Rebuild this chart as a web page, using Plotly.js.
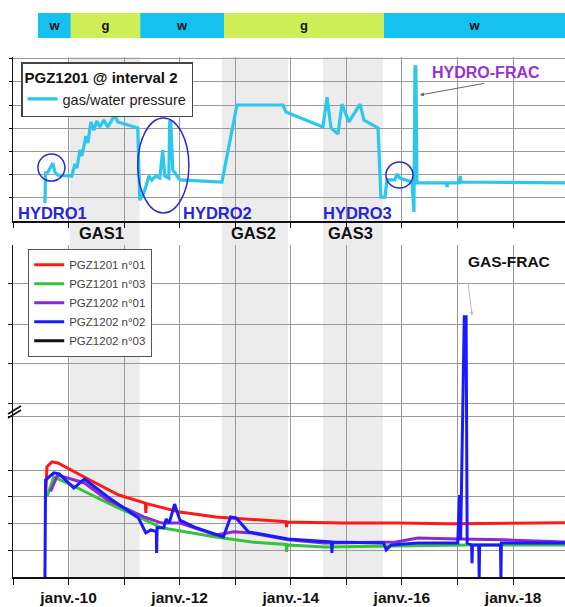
<!DOCTYPE html>
<html>
<head>
<meta charset="utf-8">
<script src="https://cdn.plot.ly/plotly-3.0.1.min.js"></script>
<style>html,body{margin:0;padding:0;background:#fff;}#chart{width:565px;height:607px;}</style>
</head>
<body>
<div id="chart"></div>
<script>
// ---------- DATA ----------
const xStart = '2009-01-01';
const xEnd = '2018-12-08';

const yearTicks = ['2009-01-01','2010-01-01','2011-01-01','2012-01-01','2013-01-01','2014-01-01','2015-01-01','2016-01-01','2017-01-01','2018-01-01'];
const yearLabels = ['','janv.-10','','janv.-12','','janv.-14','','janv.-16','','janv.-18'];

// phase bar (w = water, g = gas)
const phaseLabels = ['w','g','w','g','w'];
const phaseStart = ['2009-06-14','2010-01-16','2011-04-17','2012-10-19','2015-09-05'];
const phaseEnd   = ['2010-01-16','2011-04-17','2012-10-19','2015-09-05','2018-12-08'];

// gas phases (shaded)
const gasStart = ['2010-01-10','2012-10-05','2014-07-31'];
const gasEnd   = ['2011-04-14','2013-12-13','2015-08-29'];

// top panel: PGZ1201 @ interval 2, gas/water pressure (relative units)
const topDates = ['2009-07-30','2009-08-03','2009-08-19','2009-09-01','2009-09-20','2009-10-03','2009-10-23','2010-01-23',
  '2010-02-12','2010-02-25','2010-03-17','2010-03-30','2010-04-25','2010-05-08','2010-05-28','2010-06-17','2010-07-06',
  '2010-07-26','2010-08-21','2010-09-16','2010-11-01','2010-11-21','2011-04-01','2011-04-14','2011-05-04','2011-05-24',
  '2011-06-13','2011-07-02','2011-07-28','2011-08-24','2011-09-12','2011-09-25','2011-10-22','2011-10-28','2011-11-04',
  '2011-11-17','2012-01-03','2012-10-05','2012-11-27','2013-01-12','2013-11-10','2013-11-30','2014-07-31','2014-08-27',
  '2014-09-22','2014-11-07','2014-12-03','2015-01-18','2015-04-01','2015-04-27','2015-07-28','2015-08-16','2015-09-12',
  '2015-09-25','2015-11-16','2015-11-29','2015-12-18','2016-03-07','2016-03-20','2016-03-27','2016-04-02','2016-04-09',
  '2016-10-17','2016-10-24','2016-10-30','2017-01-11','2017-01-18','2017-01-24','2018-12-08'];
const topValues = [0.78,2.07,2.11,2.28,2.5,2.11,1.98,1.94,
  2.46,2.28,3.06,2.8,3.66,3.36,4.27,3.92,4.31,
  4.05,4.35,4.05,4.57,4.27,4.01,0.9,1.12,1.47,
  1.94,1.77,1.94,1.85,3.06,1.94,1.85,4.27,4.27,
  2.2,1.77,1.68,3.49,5.0,5.0,4.7,4.05,5.34,
  4.01,3.75,5.04,4.27,5.04,4.35,4.01,1.03,1.03,
  1.77,1.77,2.03,1.85,1.68,0.39,6.64,6.64,1.64,
  1.64,1.47,1.64,1.64,1.94,1.68,1.64];

// bottom panel (relative units)
const redDates = ['2009-08-05','2009-08-12','2009-09-14','2009-10-23','2010-05-21','2010-11-27','2011-05-20','2011-05-24','2011-05-28',
  '2012-01-03','2012-08-26','2013-04-19','2013-12-01','2013-12-04','2013-12-08','2014-12-04','2015-11-23','2016-11-12','2018-12-08'];
const redValues = [3.2,4.12,4.31,4.27,3.63,3.07,2.77,2.4,2.75,2.43,2.25,2.17,2.07,1.87,2.06,2.02,2.02,1.99,2.03];

const greenDates = ['2009-08-12','2009-09-26','2010-02-17','2010-09-16','2011-04-18','2011-09-06','2012-08-26','2013-04-19',
  '2013-12-01','2013-12-04','2013-12-08','2014-08-07','2015-11-23','2017-03-14','2018-12-08'];
const greenValues = [3.0,3.75,3.37,2.77,2.21,1.84,1.5,1.31,1.22,0.94,1.2,1.12,1.16,1.2,1.2];

const purpleDates = ['2009-09-05','2009-10-21','2010-04-16','2010-09-16','2011-05-11','2011-09-06','2012-01-03','2012-08-26',
  '2012-12-23','2013-04-19','2013-12-13','2014-08-07','2015-11-23','2016-04-15','2017-01-04','2017-11-05','2018-12-08'];
const purpleValues = [3.2,3.82,3.52,2.88,2.25,2.02,2.02,1.57,1.69,1.65,1.39,1.27,1.31,1.46,1.42,1.39,1.31];

const blueDates = ['2009-07-30','2009-08-03','2009-09-26','2009-11-01','2010-02-05','2010-04-16','2010-09-16','2011-04-06',
  '2011-05-24','2011-06-26','2011-08-01','2011-08-03','2011-08-06','2011-09-19','2011-10-04','2011-10-25','2011-11-29',
  '2012-01-03','2012-04-08','2012-10-15','2012-12-01','2013-01-06','2013-03-28','2013-12-13','2014-09-25','2014-09-28',
  '2014-10-02','2015-09-03','2015-09-20','2015-10-21','2016-04-15','2017-01-02','2017-01-14','2017-01-21','2017-02-14',
  '2017-02-26','2017-03-05','2017-04-03','2017-04-06','2017-04-09','2017-05-20','2017-05-23','2017-05-26','2017-10-10',
  '2017-10-13','2017-10-16','2018-12-08'];
const blueValues = [0,3.63,3.9,3.86,3.33,3.67,3.0,2.21,
  1.65,1.76,1.7,0.9,1.84,1.84,2.17,2.02,2.73,
  2.13,1.87,1.5,2.25,2.21,1.69,1.42,1.31,0.9,
  1.31,1.27,1.01,1.2,1.27,1.27,3.07,1.39,9.74,
  9.74,1.27,1.2,0.52,1.2,1.2,0,1.2,1.2,
  0,1.27,1.27];

// PGZ1202 n°03: not visible in the picture (legend only)
const blackDates = ['2009-01-01'];
const blackValues = [null];

const bottomGrid = [1,2,3,4,6,6.5,8,9.45,11];
const topGrid = [1,2,3,4,5,6,7];

// ---------- TRACES ----------
const FONT = 'Liberation Sans, Arial, sans-serif';
const phaseColor = {w:'#14c1ef', g:'#cdef55'};

const traces = [];
traces.push({
  type:'bar', orientation:'h', xaxis:'x3', yaxis:'y3',
  base: phaseStart,
  x: phaseStart.map((s,i)=> new Date(phaseEnd[i]) - new Date(s)),
  y: phaseLabels.map(()=>0),
  width: 1,
  marker:{color: phaseLabels.map(p=>phaseColor[p]), line:{width:0}},
  text: phaseLabels, textposition:'inside', insidetextanchor:'middle', textangle:0,
  textfont:{family:FONT, size:13, color:'#111', weight:'bold'},
  showlegend:false, hoverinfo:'skip'
});
traces.push({
  type:'scatter', mode:'lines', xaxis:'x2', yaxis:'y2',
  x: topDates, y: topValues, name:'gas/water pressure',
  line:{color:'#2cc6ee', width:3.2}, legend:'legend'
});
const bottomSeries = [
  ['PGZ1201 n°01', redDates, redValues, '#ff1a1a'],
  ['PGZ1201 n°03', greenDates, greenValues, '#33c43a'],
  ['PGZ1202 n°01', purpleDates, purpleValues, '#8a2ad0'],
  ['PGZ1202 n°02', blueDates, blueValues, '#1a1aff'],
  ['PGZ1202 n°03', blackDates, blackValues, '#111111']
];
bottomSeries.forEach(s => traces.push({
  type:'scatter', mode:'lines', xaxis:'x', yaxis:'y',
  x:s[1], y:s[2], name:s[0], line:{color:s[3], width:3}, legend:'legend2'
}));

// ---------- LAYOUT ----------
const H = 577; // paper height (607 - bottom margin)
const py = px => (H - px)/H;
const pxX = px => (px - 13)/552;

const shapes = [];
gasStart.forEach((s,i)=> shapes.push({type:'rect', xref:'x', yref:'paper', x0:s, x1:gasEnd[i], y0:0, y1:py(57),
  fillcolor:'rgba(0,0,0,0.075)', line:{width:0}, layer:'below'}));
const ell = (x0,x1,y0,y1)=>({type:'circle', xref:'x2', yref:'y2', x0, x1, y0, y1, line:{color:'#2a2ad6', width:1.5}});
shapes.push(ell('2009-06-14','2009-12-08',1.72,2.89));
shapes.push(ell('2011-04-01','2012-03-02',0.34,4.44));
shapes.push(ell('2015-09-18','2016-03-14',1.42,2.54));
// axis break mark
shapes.push({type:'line', xref:'paper', yref:'paper', x0:pxX(8), x1:pxX(21), y0:py(414), y1:py(406), line:{color:'#111', width:1.5}});
shapes.push({type:'line', xref:'paper', yref:'paper', x0:pxX(8), x1:pxX(21), y0:py(418), y1:py(410), line:{color:'#111', width:1.5}});

const hfont = {family:FONT, size:16.5, color:'#2626d9', weight:'bold'};
const gfont = {family:FONT, size:16.5, color:'#111', weight:'bold'};
const annotations = [
  {xref:'x2', yref:'y2', x:'2009-09-20', y:0.36, text:'HYDRO1', showarrow:false, font:hfont},
  {xref:'x2', yref:'y2', x:'2012-09-09', y:0.36, text:'HYDRO2', showarrow:false, font:hfont},
  {xref:'x2', yref:'y2', x:'2015-03-15', y:0.36, text:'HYDRO3', showarrow:false, font:hfont},
  {xref:'x2', yref:'y2', x:'2017-07-06', y:6.42, text:'HYDRO-FRAC', showarrow:false, font:{family:FONT, size:16, color:'#9933cc', weight:'bold'}},
  {xref:'x2', yref:'y2', x:'2016-04-28', y:5.43, text:'', showarrow:true, ax:66, ay:-12, arrowhead:2, arrowsize:0.8, arrowwidth:1, arrowcolor:'#666'},
  {xref:'x', yref:'paper', x:'2010-08-08', y:py(233), text:'GAS1', showarrow:false, font:gfont},
  {xref:'x', yref:'paper', x:'2013-04-29', y:py(233), text:'GAS2', showarrow:false, font:gfont},
  {xref:'x', yref:'paper', x:'2015-01-28', y:py(233), text:'GAS3', showarrow:false, font:gfont},
  {xref:'x', yref:'y', x:'2017-12-04', y:11.8, text:'GAS-FRAC', showarrow:false, font:{family:FONT, size:15.5, color:'#111', weight:'bold'}},
  {xref:'x', yref:'y', x:'2017-04-06', y:9.78, text:'', showarrow:true, ax:-4, ay:-33, arrowhead:2, arrowsize:0.8, arrowwidth:1, arrowcolor:'#bbb'}
];

const gridStyle = {showgrid:true, gridcolor:'#9a9a9a', gridwidth:1, showline:true, linecolor:'#111', linewidth:1.5, zeroline:false};

const layout = {
  width:565, height:607,
  margin:{l:13, r:0, t:0, b:30},
  paper_bgcolor:'#fff', plot_bgcolor:'rgba(0,0,0,0)',
  font:{family:FONT},
  xaxis: Object.assign({domain:[0,1], anchor:'y', type:'date', range:[xStart,xEnd], tickmode:'array',
    tickvals:yearTicks, ticktext:yearLabels, ticks:'outside', ticklen:6, tickcolor:'#111',
    tickfont:{family:FONT, size:15.5, color:'#111', weight:'bold'}}, gridStyle),
  xaxis2: Object.assign({anchor:'y2', matches:'x', type:'date', tickmode:'array', tickvals:yearTicks,
    showticklabels:false, ticks:'outside', ticklen:5, tickcolor:'#111'}, gridStyle),
  xaxis3: {anchor:'y3', matches:'x', type:'date', visible:false},
  yaxis: Object.assign({domain:[0, py(245)], anchor:'x', range:[0,12.43], tickmode:'array', tickvals:bottomGrid,
    showticklabels:false, ticks:'outside', ticklen:4, tickcolor:'#111'}, gridStyle),
  yaxis2: Object.assign({domain:[py(221), py(57)], anchor:'x2', range:[0,7.07], tickmode:'array', tickvals:topGrid,
    showticklabels:false, ticks:'outside', ticklen:3, tickcolor:'#111'}, gridStyle),
  yaxis3: {domain:[py(38), py(13)], anchor:'x3', range:[-0.5,0.5], visible:false},
  legend: {x:pxX(21), y:py(62), xanchor:'left', yanchor:'top', bgcolor:'#fff', bordercolor:'#444', borderwidth:1.5,
    font:{family:FONT, size:14.5, color:'#222'},
    title:{text:'PGZ1201 @ interval 2', font:{family:FONT, size:15, color:'#111', weight:'bold'}}},
  legend2: {x:pxX(28), y:py(249), xanchor:'left', yanchor:'top', bgcolor:'#fff', bordercolor:'#555', borderwidth:1.2,
    font:{family:FONT, size:11.5, color:'#444'}, tracegroupgap:0},
  showlegend:true,
  shapes, annotations
};

Plotly.newPlot('chart', traces, layout, {displayModeBar:false, staticPlot:true});
</script>
</body>
</html>
